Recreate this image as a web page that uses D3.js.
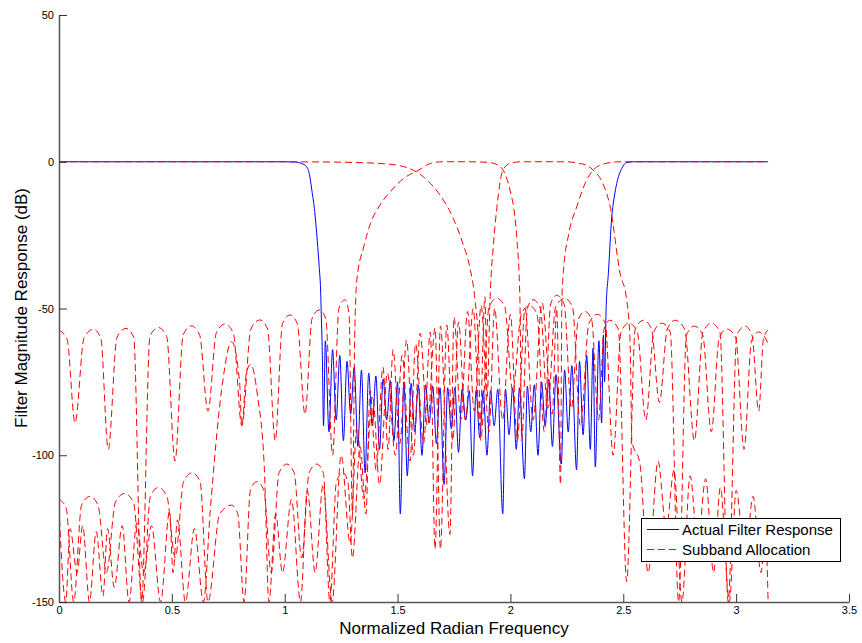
<!DOCTYPE html>
<html><head><meta charset="utf-8">
<script src="https://cdn.jsdelivr.net/npm/d3@7"></script>
<style>body{margin:0;background:#fff;} svg{display:block;} text{font-family:Arial,"Liberation Sans",Helvetica,sans-serif;fill:#000;}</style>
</head><body><svg id="chart" width="862" height="643"></svg>
<script>
const xTicks=[0,0.5,1,1.5,2,2.5,3,3.5];
const yTicks=[-150,-100,-50,0,50];
const seriesNames=["Actual Filter Response","Subband Allocation"];

// Actual (band-stop) filter response, [rad, dB]
const actualResponse=[[0,0],[0.5,0],[1.0,0],[1.05,-0.1],[1.075,-0.6],[1.097,-1.7],[1.11,-4.5],[1.12,-9.6],[1.133,-17],[1.144,-26.7],[1.153,-36],[1.159,-43.7],[1.163,-55],[1.166,-63],
[1.172,-90],[1.18,-61],[1.196,-92],[1.212,-64],[1.228,-88],[1.244,-66],[1.26,-95],[1.276,-68],[1.292,-86],[1.308,-70],[1.324,-97],[1.34,-71],[1.356,-106],[1.372,-72],[1.388,-90],[1.404,-73],[1.42,-98],[1.436,-74],[1.452,-88],[1.468,-74.5],[1.484,-95],[1.5,-75],[1.512,-120],[1.528,-75],[1.543,-107],[1.56,-75.5],[1.576,-92],[1.592,-76],[1.608,-100],[1.624,-76],[1.64,-89],[1.656,-76.5],[1.672,-96],[1.688,-77],[1.706,-110],[1.722,-77],[1.738,-91],[1.754,-77],[1.77,-99],[1.786,-77.5],[1.802,-88],[1.818,-78],[1.832,-107],[1.848,-78],[1.864,-94],[1.88,-78],[1.896,-100],[1.912,-78],[1.928,-90],[1.944,-77.5],[1.966,-120],[1.978,-77.5],[1.994,-93],[2.01,-77],[2.026,-98],[2.04,-77],[2.062,-108],[2.075,-76.5],[2.09,-92],[2.106,-76],[2.122,-100],[2.138,-75],[2.154,-90],[2.17,-74],[2.186,-97],[2.202,-72.5],[2.225,-103],[2.24,-71],[2.256,-92],[2.272,-69.5],[2.293,-105],[2.306,-68],[2.322,-93],[2.338,-66],[2.354,-98],[2.366,-63.5],[2.376,-104],[2.392,-61],[2.404,-89],[2.412,-59],[2.417,-75],
[2.424,-50],[2.434,-38],[2.449,-18.7],[2.46,-12],[2.471,-7.4],[2.493,-2.3],[2.515,-0.3],[2.55,0],[3.1416,0]];

// Subband allocation filters, [rad, dB]
const subbandLow=[[0,0],[0.3,0],[0.6,0],[0.9,0],[1.2,-0.1],[1.4,-0.5],[1.5,-1.2],[1.57,-2.9],[1.62,-5.5],[1.68,-10.5],[1.745,-19],[1.79,-28],[1.82,-36],[1.843,-47],[1.858,-62],[1.868,-95],
[1.905,-49.5],[1.94,-46.5],[1.975,-49.5],[2.01,-78],[2.048,-52],[2.085,-49],[2.118,-52],[2.15,-92],[2.178,-48.5],[2.205,-45.5],[2.238,-48.5],[2.27,-84],[2.3,-54],[2.33,-51],[2.36,-54],[2.39,-88],[2.415,-57],[2.44,-54],[2.478,-57],[2.515,-143],[2.553,-57],[2.59,-54],[2.625,-57],[2.66,-82],[2.695,-57],[2.73,-54],[2.772,-57],[2.815,-95],[2.853,-58],[2.89,-55],[2.928,-58],[2.965,-150],[3.003,-59],[3.04,-56],[3.07,-59],[3.1,-85],[3.121,-60.3],[3.1416,-57.3]];

const subbandMid1=[[0,-57.4],[0.036,-60.5],[0.071,-89],[0.111,-60],[0.152,-57.1],[0.185,-60],[0.218,-98],[0.257,-59.8],[0.297,-56.8],[0.331,-59.8],[0.366,-150],[0.403,-59.5],[0.44,-56.5],[0.477,-59.5],[0.514,-102],[0.55,-59],[0.586,-55.9],[0.623,-59],[0.66,-85],[0.697,-58.3],[0.735,-55.3],[0.772,-58.3],[0.81,-90],[0.85,-57],[0.89,-53.9],[0.924,-57],[0.958,-95],[0.99,-55.2],[1.023,-52.2],[1.056,-55.2],[1.09,-86],[1.121,-53.5],[1.153,-50.5],[1.182,-53.5],[1.212,-100],[1.24,-50],[1.267,-47],[1.285,-52],[1.3,-120],
[1.31,-60],[1.32,-40],[1.35,-29],[1.38,-21],[1.42,-15],[1.47,-10],[1.53,-5.5],[1.59,-3],[1.645,-0.6],[1.7,0],[1.8,0],[1.9,-0.2],[1.935,-0.8],[1.967,-2.8],[1.998,-9.6],[2.02,-19],[2.029,-26.7],[2.042,-47],[2.05,-95],
[2.075,-50],[2.1,-47],[2.133,-50],[2.165,-84],[2.2,-49.5],[2.24,-46.5],[2.275,-49.5],[2.31,-90],[2.348,-55],[2.385,-52],[2.42,-55],[2.455,-100],[2.49,-58],[2.525,-55],[2.562,-58],[2.6,-88],[2.635,-58],[2.67,-55],[2.708,-58],[2.745,-150],[2.78,-59],[2.815,-56],[2.852,-59],[2.89,-92],[2.925,-60],[2.96,-57],[2.998,-60],[3.035,-98],[3.068,-61],[3.1,-58],[3.12,-59],[3.1416,-62]];

const subbandMid2=[[0,-115],[0.032,-118],[0.065,-150],[0.1,-117],[0.137,-114],[0.173,-117],[0.21,-140],[0.25,-116],[0.29,-113],[0.33,-116],[0.37,-150],[0.405,-114],[0.44,-111],[0.478,-114],[0.515,-135],[0.552,-109],[0.59,-106],[0.625,-109],[0.66,-150],[0.712,-120],[0.765,-117],[0.792,-120],[0.82,-150],[0.848,-112],[0.876,-109],[0.908,-112],[0.94,-140],[0.975,-106],[1.009,-103],[1.042,-106],[1.075,-135],[1.108,-106],[1.142,-103],[1.171,-106],[1.2,-150],[1.229,-109],[1.258,-106],[1.28,-109],[1.3,-135],
[1.334,-97],[1.36,-120],[1.378,-78],[1.405,-105],[1.435,-70],[1.458,-98],[1.48,-64],[1.51,-96],[1.54,-60.7],[1.57,-100],[1.6,-58.4],[1.632,-90],[1.666,-56.7],[1.69,-132],[1.718,-55.6],[1.745,-95],[1.77,-54.6],[1.8,-88],[1.835,-50],[1.865,-90],[1.887,-46],[1.897,-80],
[1.91,-46],[1.925,-28],[1.94,-15.5],[1.967,-2.8],[2.0,-0.5],[2.05,0],[2.25,0],[2.3,-0.5],[2.34,-1.3],[2.366,-2.8],[2.41,-7.5],[2.441,-15],[2.486,-38],[2.515,-47],[2.53,-61],[2.538,-95],
[2.574,-103],[2.61,-140],[2.654,-102],[2.69,-125],[2.725,-105],[2.76,-150],[2.796,-107],[2.83,-130],[2.865,-108],[2.9,-140],[2.93,-111],[2.97,-150],[3.0,-112],[3.04,-135],[3.075,-114],[3.11,-140],[3.13,-125],[3.1416,-150]];

const subbandHigh=[[0,-118],[0.03,-150],[0.049,-125],[0.08,-140],[0.105,-124],[0.135,-150],[0.165,-126],[0.195,-148],[0.215,-125],[0.245,-145],[0.28,-124],[0.31,-150],[0.345,-123],[0.375,-140],[0.41,-124],[0.45,-150],[0.49,-119],[0.505,-140],[0.525,-122],[0.56,-150],[0.6,-125],[0.64,-150],[0.67,-119],
[0.72,-78],[0.765,-61.3],[0.8,-75],[0.81,-90],[0.83,-72],[0.85,-69],[0.88,-80],[0.91,-105],[0.93,-150],
[0.96,-120],[0.99,-140],[1.03,-115],[1.07,-150],[1.1,-112],[1.135,-140],[1.17,-110],[1.21,-150],[1.25,-100],[1.29,-130],[1.32,-90],[1.35,-115],[1.39,-80],[1.42,-110],[1.455,-72],[1.49,-100],[1.52,-66],[1.555,-102],[1.58,-62],[1.615,-96],[1.645,-58],[1.666,-132],[1.69,-56],[1.732,-127],[1.75,-53],[1.78,-88],[1.81,-51],[1.84,-85],[1.87,-49],[1.905,-92],[1.93,-50],[1.965,-88],[2.0,-52],[2.03,-95],[2.065,-50],[2.1,-88],[2.14,-48],[2.185,-86],[2.205,-50],[2.222,-110],
[2.228,-47],[2.234,-38],[2.26,-24],[2.294,-15.3],[2.33,-7.5],[2.367,-2.8],[2.42,-0.6],[2.486,0],[2.6,0],[3.1416,0]];

const subbands=[subbandLow,subbandMid1,subbandMid2,subbandHigh];

const svg=d3.select("#chart");
const x=d3.scaleLinear().domain([0,3.5]).range([59,849]);
const y=d3.scaleLinear().domain([-150,50]).range([602,15]);

svg.append("defs").append("clipPath").attr("id","plotclip").append("rect")
  .attr("x",59).attr("y",15).attr("width",790).attr("height",587);

const line=d3.line().x(d=>x(d[0])).y(d=>y(d[1])).curve(d3.curveMonotoneX);
const plot=svg.append("g").attr("clip-path","url(#plotclip)");

plot.append("path").datum(actualResponse).attr("d",line)
  .style("fill","none").style("stroke","#0000ff").style("stroke-width",1);

plot.selectAll("path.sub").data(subbands).join("path").attr("class","sub").attr("d",line)
  .style("fill","none").style("stroke","#ff0000").style("stroke-width",1).style("stroke-dasharray","7,4");

// axes
const xAxis=d3.axisBottom(x).tickValues(xTicks).tickSizeInner(-8).tickSizeOuter(0).tickPadding(4).tickFormat(d=>String(d));
const gx=svg.append("g").attr("transform","translate(0,602)").call(xAxis);
const yAxis=d3.axisLeft(y).tickValues(yTicks).tickSizeInner(-8).tickSizeOuter(0).tickPadding(5).tickFormat(d=>String(d));
const gy=svg.append("g").attr("transform","translate(59,0)").call(yAxis);
[gx,gy].forEach(g=>{
  g.select(".domain").attr("stroke","#555").attr("stroke-width",1.5);
  g.selectAll(".tick line").attr("stroke","#333");
  g.selectAll(".tick text").attr("font-size",11).attr("font-family","Arial,'Liberation Sans',sans-serif").attr("fill","#000");
});

svg.append("text").attr("x",454).attr("y",634).attr("text-anchor","middle").attr("font-size",17).text("Normalized Radian Frequency");
svg.append("text").attr("transform","translate(27,308) rotate(-90)").attr("text-anchor","middle").attr("font-size",17).text("Filter Magnitude Response (dB)");

// legend
const lg=svg.append("g");
lg.append("rect").attr("x",641.5).attr("y",518.5).attr("width",199).attr("height",43).style("fill","#fff").style("stroke","#000");
lg.append("line").attr("x1",647).attr("x2",679).attr("y1",529.5).attr("y2",529.5).style("stroke","#0000ff").style("stroke-width",1);
lg.append("line").attr("x1",647).attr("x2",679).attr("y1",549.5).attr("y2",549.5).style("stroke","#ff0000").style("stroke-width",1).style("stroke-dasharray","7,4");
lg.append("text").attr("x",682).attr("y",535).attr("font-size",15).text(seriesNames[0]);
lg.append("text").attr("x",682).attr("y",555).attr("font-size",15).text(seriesNames[1]);
</script></body></html>
